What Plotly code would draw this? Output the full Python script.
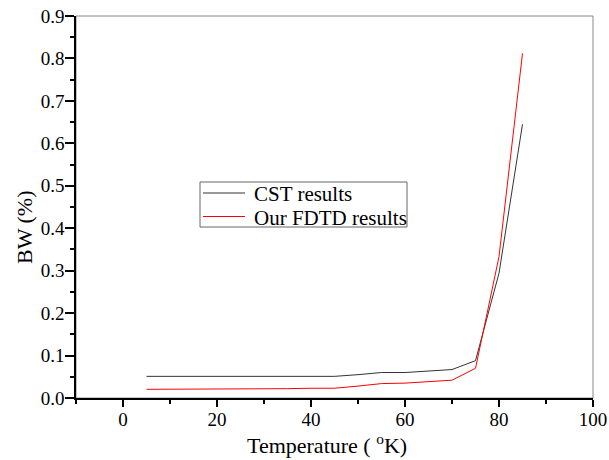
import plotly.graph_objects as go

temperature = [5, 10, 15, 20, 25, 30, 35, 40, 45, 50, 55, 60, 65, 70, 75, 80, 85]
cst_bw = [0.051, 0.051, 0.051, 0.051, 0.051, 0.051, 0.051, 0.051, 0.051, 0.055, 0.060, 0.060, 0.064, 0.067, 0.088, 0.294, 0.645]
fdtd_bw = [0.0205, 0.0205, 0.0205, 0.0205, 0.021, 0.021, 0.022, 0.023, 0.023, 0.028, 0.034, 0.035, 0.039, 0.042, 0.070, 0.333, 0.812]
series_names = ["CST results", "Our FDTD results"]
series_colors = ["#333333", "#ff0000"]

font_family = "Liberation Serif, Times New Roman, serif"

L, R, T, B = 76, 16, 16, 62
W, H = 609, 460
pw, ph = W - L - R, H - T - B


def px(x):
    return (x - L) / pw


def py(y):
    return (H - B - y) / ph


fig = go.Figure()
for ys, name, col in zip([cst_bw, fdtd_bw], series_names, series_colors):
    fig.add_trace(go.Scatter(x=temperature, y=ys, mode="lines", name=name,
                             line=dict(color=col, width=1), showlegend=False))

shapes = [dict(type="rect", xref="paper", yref="paper", x0=0, x1=1, y0=0, y1=1,
               line=dict(color="#888888", width=1), layer="below"),
          dict(type="rect", xref="paper", yref="paper", x0=px(200), x1=px(407), y0=py(227), y1=py(182),
               line=dict(color="#666666", width=1), fillcolor="white")]
annotations = []
for i, (name, col) in enumerate(zip(series_names, series_colors)):
    yy = 193 + i * 23.5
    shapes.append(dict(type="line", xref="paper", yref="paper", x0=px(203), x1=px(245), y0=py(yy), y1=py(yy),
                       line=dict(color=col, width=1)))
    annotations.append(dict(text=name, xref="paper", yref="paper", x=px(252), y=py(yy + 1),
                            xanchor="left", yanchor="middle", showarrow=False,
                            font=dict(size=21)))

annotations += [
    dict(text="Temperature ( <sup>o</sup>K)", xref="paper", yref="paper",
         x=px(327), y=py(444), xanchor="center", yanchor="middle",
         showarrow=False, font=dict(size=22)),
    dict(text="BW (%)", xref="paper", yref="paper", textangle=-90,
         x=px(25), y=py(227), xanchor="center", yanchor="middle",
         showarrow=False, font=dict(size=22)),
]

fig.update_layout(
    width=W, height=H,
    margin=dict(l=L, r=R, t=T, b=B),
    paper_bgcolor="white", plot_bgcolor="white",
    font=dict(family=font_family, color="black", size=19),
    showlegend=False,
    xaxis=dict(range=[-10, 100], tickvals=[0, 20, 40, 60, 80, 100], automargin=False,
               showgrid=False, zeroline=False, showline=True, linecolor="black", linewidth=1.5,
               ticks="outside", ticklen=7, tickcolor="black", tickwidth=1.5,
               tickfont=dict(size=19), ticklabelstandoff=-4,
               minor=dict(dtick=10, tick0=0, ticks="outside", ticklen=4, tickcolor="black", showgrid=False)),
    yaxis=dict(range=[0, 0.9], dtick=0.1, tickformat=".1f", automargin=False,
               showgrid=False, zeroline=False, showline=True, linecolor="black", linewidth=1.5,
               ticks="outside", ticklen=9, tickcolor="black", tickwidth=1.5,
               tickfont=dict(size=19), ticklabelstandoff=-3,
               minor=dict(dtick=0.05, ticks="outside", ticklen=4, tickcolor="black", showgrid=False)),
    shapes=shapes,
    annotations=annotations,
)

fig.write_html("out.html")
